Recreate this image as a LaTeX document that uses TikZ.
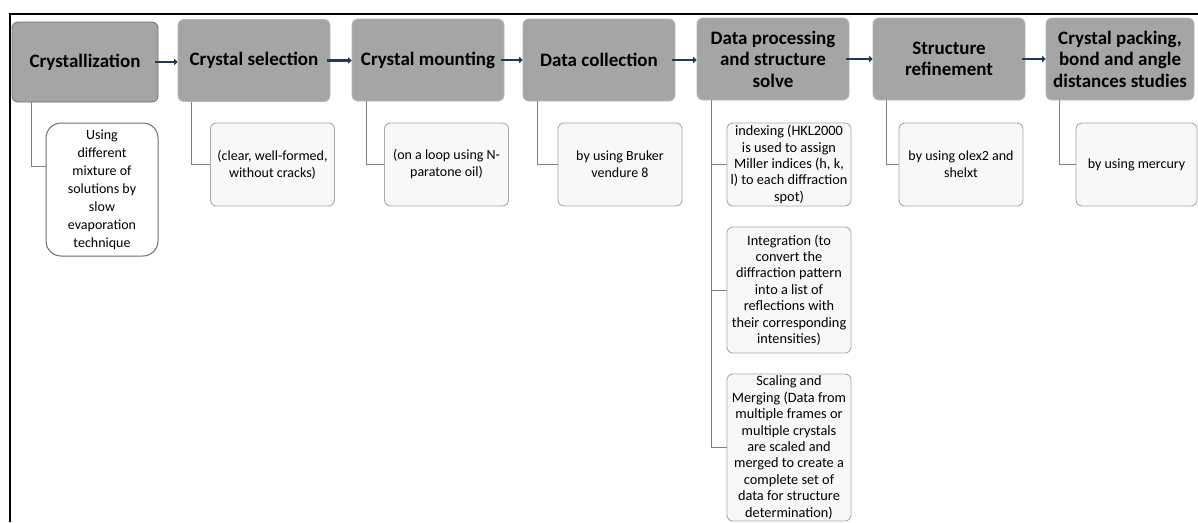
\documentclass[tikz,border=0pt]{standalone}
\usepackage{fontspec}
\setmainfont{Carlito}
\usetikzlibrary{arrows.meta}
\definecolor{hdrfill}{HTML}{A5A5A5}
\definecolor{hdrline}{HTML}{B5B5B5}
\definecolor{hdrdark}{HTML}{6E6E6E}
\definecolor{kidfill}{HTML}{F8F8F8}
\definecolor{kidline}{HTML}{A9A9A9}
\definecolor{conline}{HTML}{808080}
\definecolor{navy}{HTML}{1F3A5C}
\tikzset{
  hdr/.style={draw=hdrline, fill=hdrfill, rounded corners=6pt, line width=0.8pt,
    align=center, inner sep=1pt, font=\fontsize{19}{21.5}\selectfont\bfseries,
    minimum width=152pt, minimum height=82pt},
  kid/.style={draw=kidline, fill=kidfill, rounded corners=6pt, line width=0.9pt,
    align=center, inner sep=1pt, font=\fontsize{14}{17}\selectfont,
    minimum width=124pt, minimum height=83pt},
  kidsm/.style={kid, font=\fontsize{14.3}{16.4}\selectfont, inner sep=0pt},
  con/.style={draw=conline, line width=0.9pt},
  flow/.style={draw=navy, line width=2.6pt, -{Triangle[length=3.5pt,width=6.5pt]}},
}
\begin{document}
\begin{tikzpicture}[x=1pt,y=-1pt]
\useasboundingbox (0,0) rectangle (1198,522);
\fill[white] (0,0) rectangle (1198,522);
% frame
\draw[line width=2pt, black] (10,522) -- (10,14) -- (1198,14);

% headers
\node[hdr, draw=hdrdark, minimum width=146pt, minimum height=80pt] (H1) at (85,62) {Crystallization};
\node[hdr] (H2) at (254,60.5) {Crystal selection};
\node[hdr] (H3) at (428,60) {Crystal mounting};
\node[hdr] (H4) at (599,60) {Data collection};
\node[hdr] (H5) at (773,59) {Data processing\\and structure\\solve};
\node[hdr] (H6) at (949,59) {Structure\\refinement};
\node[hdr, minimum width=148pt] (H7) at (1120,59) {Crystal packing,\\bond and angle\\distances studies};

% children
\node[kid, fill=white, draw=hdrdark, line width=1pt, rounded corners=15pt,
  minimum width=112pt, minimum height=133pt, font=\fontsize{14}{18}\selectfont] (C1) at (102,189.5)
  {Using\\different\\mixture of\\solutions by\\slow\\evaporation\\technique};
\node[kid] (C2) at (272.5,164.5) {(clear, well-formed,\\without cracks)};
\node[kid] (C3) at (446.5,164.5) {(on a loop using N-\\paratone oil)};
\node[kid] (C4) at (620,164.5) {by using Bruker\\vendure 8};
\node[kidsm] (C5a) at (789,164.5) {indexing (HKL2000\\is used to assign\\Miller indices (h, k,\\l) to each diffraction\\spot)};
\node[kidsm, minimum height=126pt] (C5b) at (789,290) {Integration (to\\convert the\\diffraction pattern\\into a list of\\reflections with\\their corresponding\\intensities)};
\node[kidsm, minimum height=147pt] (C5c) at (789,447.5) {Scaling and\\Merging (Data from\\multiple frames or\\multiple crystals\\are scaled and\\merged to create a\\complete set of\\data for structure\\determination)};
\node[kid] (C6) at (961,164.5) {by using olex2 and\\shelxt};
\node[kid, minimum width=121pt] (C7) at (1136.5,164.5) {by using mercury};

% connectors header -> children
\draw[con] ([xshift=20pt]H1.south west) |- ([yshift=23.5pt]C1.west);
\draw[con] ([xshift=14pt]H2.south west) |- (C2.west);
\draw[con] ([xshift=15pt]H3.south west) |- (C3.west);
\draw[con] ([xshift=15pt]H4.south west) |- (C4.west);
\draw[con] ([xshift=15pt]H5.south west) |- (C5a.west);
\draw[con] ([xshift=15pt]H5.south west) |- (C5b.west);
\draw[con] ([xshift=15pt]H5.south west) |- (C5c.west);
\draw[con] ([xshift=14pt]H6.south west) |- (C6.west);
\draw[con] ([xshift=14pt]H7.south west) |- (C7.west);

% flow arrows
\draw[flow, shorten <=-3pt] (H1.east) -- (H1.east -| H2.west);
\draw[flow, shorten <=-3pt] (H2.east) -- (H2.east -| H3.west);
\draw[flow, shorten <=-3pt] (H3.east) -- (H3.east -| H4.west);
\draw[flow, shorten <=-3pt] (H4.east) -- (H4.east -| H5.west);
\draw[flow, shorten <=-3pt] (H5.east) -- (H5.east -| H6.west);
\draw[flow, shorten <=-3pt] (H6.east) -- (H6.east -| H7.west);
\end{tikzpicture}
\end{document}
